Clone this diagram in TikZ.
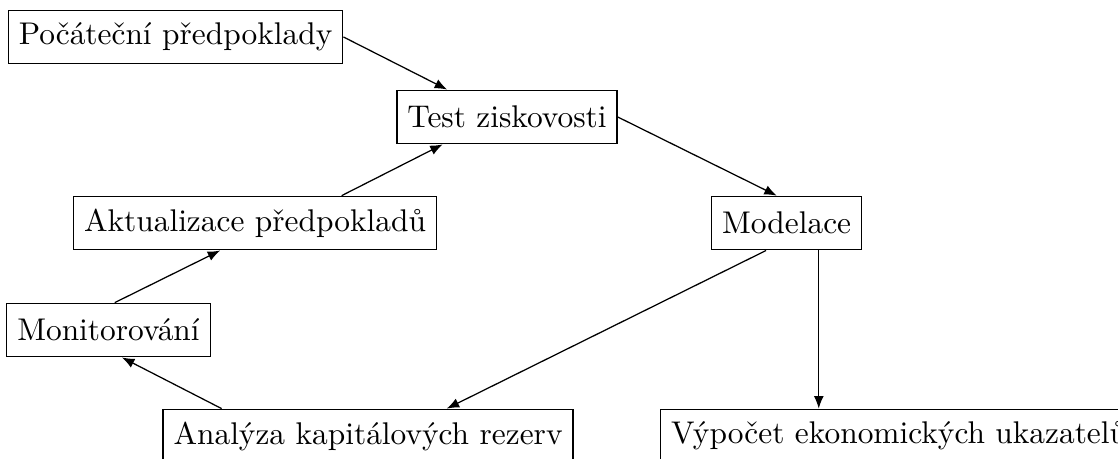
\documentclass[tikz,border=0pt]{standalone}
\usepackage{tikz}
\usetikzlibrary{positioning,arrows.meta,calc}

\begin{document}
\begin{tikzpicture}[
  box/.style={draw, minimum height=0.6cm, inner sep=3.333pt},
  arr/.style={-{Latex[length=1.4mm,width=1.1mm]}}]
\useasboundingbox (0,0) rectangle (12.52,-5.14);
% boxes
\node[box] (pre) at (1.966,-0.414) {Počáteční předpoklady};
\node[box] (test) at (5.678,-1.310) {Test ziskovosti};
\node[box] (akt) at (2.856,-2.498) {Aktualizace předpokladů};
\node[box] (mod) at (8.809,-2.498) {Modelace};
\node[box] (mon) at (1.215,-3.696) {Monitorování};
\node[box] (ana) at (4.122,-4.883) {Analýza kapitálových rezerv};
\node[box, anchor=west] (vyp) at (7.392,-4.883) {Výpočet ekonomických ukazatelů};
% arrows
\draw[arr] (pre.east) -- ([xshift=-0.67cm]test.north);
\draw[arr] (test.east) -- ([xshift=-0.11cm]mod.north);
\draw[arr] ([xshift=-0.23cm]mod.south) -- ([xshift=0.88cm]ana.north);
\coordinate (m2) at ([xshift=0.36cm]mod.south);
\draw[arr] (m2) -- (m2 |- vyp.north);
\draw[arr] ([xshift=-1.64cm]ana.north) -- ([xshift=0.15cm]mon.south);
\draw[arr] ([xshift=0.07cm]mon.north) -- ([xshift=-0.39cm]akt.south);
\draw[arr] ([xshift=0.97cm]akt.north) -- ([xshift=-0.72cm]test.south);
\end{tikzpicture}
\end{document}
